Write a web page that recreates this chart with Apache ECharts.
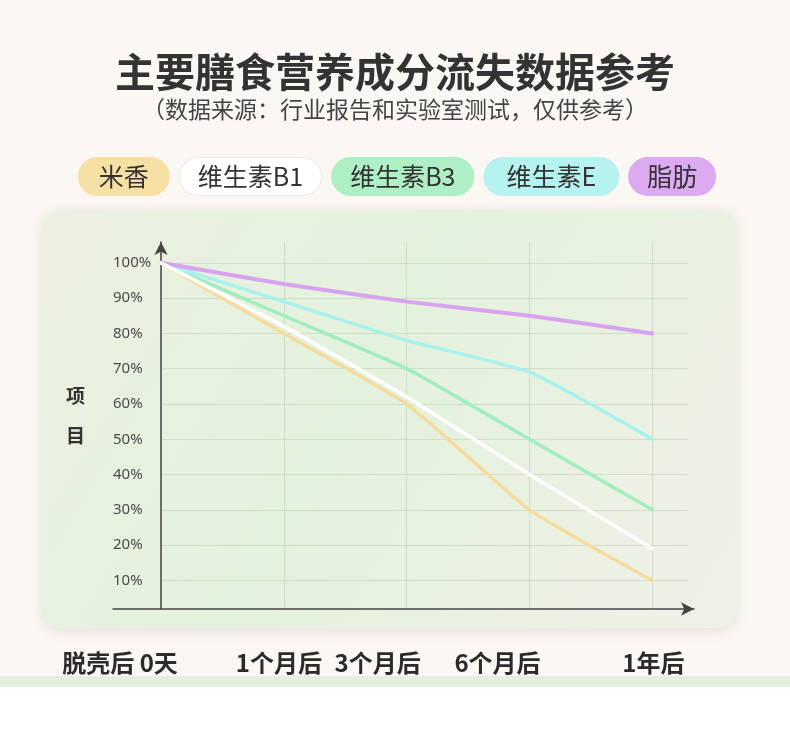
<!DOCTYPE html>
<html>
<head>
<meta charset="utf-8">
<script src="https://cdn.jsdelivr.net/npm/echarts@6/dist/echarts.min.js"></script>
<style>
html,body{margin:0;padding:0;background:#fbf8f3;}
#chart{width:790px;height:738px;}
</style>
</head>
<body>
<div id="chart"></div>
<script>
// ---- data ----
const categories = ['脱壳后 0天', '1个月后', '3个月后', '6个月后', '1年后'];
const seriesNames = ['米香', '维生素B1', '维生素B3', '维生素E', '脂肪'];
const riceAroma = [100, 80, 60, 30, 10];
const vitaminB1 = [100, 82, 62, 40, 19];
const vitaminB3 = [100, 85, 70, 50, 30];
const vitaminE = [100, 89, 78, 69, 50];
const fat = [100, 94, 89, 85, 80];
const yTicks = [10, 20, 30, 40, 50, 60, 70, 80, 90, 100];

// ---- styles ----
const lineColors = {'米香': '#f5dc9e', '维生素B1': '#ffffff', '维生素B3': '#a2edbf', '维生素E': '#a9f1ec', '脂肪': '#d7a3ee'};
const pillColors = {'米香': '#f7e0a4', '维生素B1': '#ffffff', '维生素B3': '#aeefc6', '维生素E': '#b6f2ef', '脂肪': '#dcaaf0'};
const pillPadX = [20, 18, 18, 22, 18];
const labelShift = [[0, 82, 0, 0], [0, 10, 0, 0], [0, 58, 0, 0], [0, 64, 0, 0], [0, 0, 0, 2]];

const valuesByName = {'米香': riceAroma, '维生素B1': vitaminB1, '维生素B3': vitaminB3, '维生素E': vitaminE, '脂肪': fat};
const drawOrder = ['米香', '维生素B3', '维生素E', '脂肪', '维生素B1'];

const rich = {};
seriesNames.forEach((n, i) => {
  rich['p' + i] = {
    backgroundColor: pillColors[n],
    borderColor: n === '维生素B1' ? '#ebebeb' : pillColors[n],
    borderWidth: 1,
    borderRadius: 20,
    padding: [6, pillPadX[i], 6, pillPadX[i]],
    fontSize: 25,
    color: '#333',
    fontFamily: 'Noto Sans CJK SC',
    lineHeight: 27
  };
});
const xRich = {};
labelShift.forEach((p, i) => {
  xRich['l' + i] = {padding: p, fontSize: 24, fontWeight: 'bold', color: '#2b2b2b', fontFamily: 'Noto Sans CJK SC'};
});

const chart = echarts.init(document.getElementById('chart'), null, {renderer: 'canvas'});
chart.setOption({
  backgroundColor: '#fbf8f3',
  animation: false,
  title: {
    text: '主要膳食营养成分流失数据参考',
    subtext: '（数据来源：行业报告和实验室测试，仅供参考）',
    left: 'center',
    top: 47,
    itemGap: 6,
    textStyle: {fontSize: 40, fontWeight: 'bold', color: '#333', fontFamily: 'Noto Sans CJK SC'},
    subtextStyle: {fontSize: 23, color: '#444', fontFamily: 'Noto Sans CJK SC'}
  },
  legend: {
    data: seriesNames,
    top: 152,
    left: 'center',
    icon: 'none',
    itemWidth: 0,
    itemHeight: 10,
    itemGap: 5,
    selectedMode: false,
    formatter: name => '{p' + seriesNames.indexOf(name) + '|' + name + '}',
    textStyle: {rich: rich}
  },
  graphic: [
    {type: 'rect', z: -10, shape: {x: 42, y: 210, width: 695, height: 418, r: 18},
      style: {fill: new echarts.graphic.LinearGradient(0, 0, 1, 1, [
        {offset: 0, color: '#ecf0e3'}, {offset: 0.45, color: '#e3f2dc'}, {offset: 1, color: '#f0f0e8'}]),
        shadowBlur: 14, shadowColor: 'rgba(0,0,0,0.10)', shadowOffsetY: 3}},
    {type: 'rect', z: -10, shape: {x: 0, y: 676, width: 790, height: 11}, style: {fill: '#e4eee1'}},
    {type: 'rect', z: -10, shape: {x: 0, y: 687, width: 790, height: 51}, style: {fill: '#ffffff'}}
  ],
  grid: [
    {left: 161, right: 102, top: 242, bottom: 129},
    {left: 113, right: 96, top: 242, bottom: 129}
  ],
  xAxis: [
    {
      type: 'value', gridIndex: 0, min: 0, max: 4.29,
      axisLine: {show: false},
      axisTick: {show: false, customValues: [0, 1, 2, 3, 4]},
      axisLabel: {customValues: [0, 1, 2, 3, 4], margin: 42,
        formatter: v => '{l' + v + '|' + categories[v] + '}', rich: xRich},
      splitLine: {show: true, lineStyle: {color: 'rgba(110,125,100,0.18)', width: 1}}
    },
    {
      type: 'value', gridIndex: 1, min: 0, max: 1,
      axisLine: {show: true, symbol: ['none', 'arrow'], symbolSize: [10, 13], lineStyle: {color: '#444', width: 1.5}},
      axisTick: {show: false}, axisLabel: {show: false}, splitLine: {show: false}
    }
  ],
  yAxis: [
    {
      type: 'value', gridIndex: 0, min: 1.9, max: 105.9,
      name: '项\n\n目\n', nameLocation: 'middle', nameRotate: 0, nameGap: 76,
      nameTextStyle: {fontSize: 19, fontWeight: 'bold', color: '#333', lineHeight: 20, fontFamily: 'Noto Sans CJK SC'},
      axisLine: {show: true, onZero: false, symbol: ['none', 'arrow'], symbolSize: [10, 13], lineStyle: {color: '#444', width: 1.5}},
      axisTick: {show: false, customValues: yTicks},
      axisLabel: {customValues: yTicks, formatter: '{value}%', align: 'left', margin: 48, fontSize: 15, color: '#4a4a4a', fontFamily: 'Noto Sans'},
      splitLine: {show: true, lineStyle: {color: 'rgba(110,125,100,0.18)', width: 1}}
    },
    {type: 'value', gridIndex: 1, show: false, min: 0, max: 1}
  ],
  series: drawOrder.map(n => ({
    name: n,
    type: 'line',
    xAxisIndex: 0, yAxisIndex: 0,
    data: valuesByName[n].map((v, i) => [i, v]),
    smooth: 0.15,
    symbol: 'none',
    lineStyle: {color: lineColors[n], width: n === '脂肪' ? 4 : 3.5, cap: 'round'},
    itemStyle: {color: pillColors[n]}
  }))
});
</script>
</body>
</html>
